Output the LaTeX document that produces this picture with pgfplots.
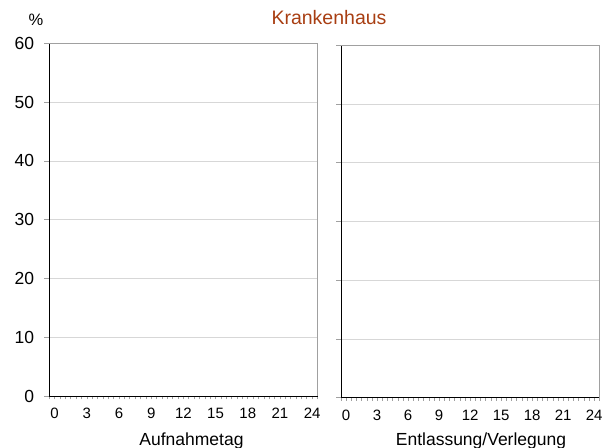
\documentclass[border=0pt]{standalone}
\usepackage{fontspec}
\setmainfont{Liberation Sans}
\usepackage{pgfplots}
\pgfplotsset{compat=1.18}
\definecolor{titlec}{RGB}{168,62,18}
\definecolor{gridc}{RGB}{215,215,215}
\definecolor{framec}{RGB}{160,160,160}
\begin{document}
\begin{tikzpicture}
\useasboundingbox (0,0) rectangle (609bp,448bp);
\pgfplotsset{
 panel/.style={
  scale only axis, anchor=south west,
  xmin=-0.5, xmax=24.5, ymin=0, ymax=60,
  axis x line*=bottom, axis y line*=left,
  axis line style={black, line width=0.9bp},
  xtick={0,3,...,24}, minor xtick={-0.5,0,...,24.5},
  major x tick style={draw=none},
  minor tick length=3.3bp, major tick length=5bp,
  ytick={0,10,...,60},
  tick style={framec, line width=0.6bp},
  tick align=outside,
  ymajorgrids, grid style={gridc, line width=0.6bp},
  /pgf/number format/assume math mode=true,
  xticklabel style={font=\fontsize{15bp}{17bp}\selectfont, inner sep=0pt, yshift=-7bp},
  yticklabel style={font=\fontsize{17.5bp}{19bp}\selectfont, inner sep=0pt, xshift=-10bp},
  clip=false,
 }
}
\begin{axis}[panel, at={(49.3bp,52bp)}, width=268.2bp, height=352.7bp]
\draw[framec, line width=0.8bp] (rel axis cs:0,1) -- (rel axis cs:1,1) -- (rel axis cs:1,0);
\end{axis}
\begin{axis}[panel, at={(341bp,50.3bp)}, width=258.3bp, height=352.4bp, yticklabels={}]
\draw[framec, line width=0.8bp] (rel axis cs:0,1) -- (rel axis cs:1,1) -- (rel axis cs:1,0);
\end{axis}
\node[anchor=base, text=titlec, font=\fontsize{19.5bp}{21bp}\selectfont] at (329bp,423bp) {Krankenhaus};
\node[anchor=base, font=\fontsize{16.5bp}{18bp}\selectfont] at (36bp,422bp) {\%};
\node[anchor=base, font=\fontsize{17.5bp}{19bp}\selectfont] at (191.5bp,3bp) {Aufnahmetag};
\node[anchor=base, font=\fontsize{17.5bp}{19bp}\selectfont] at (481bp,2.5bp) {Entlassung/Verlegung};
\end{tikzpicture}
\end{document}
